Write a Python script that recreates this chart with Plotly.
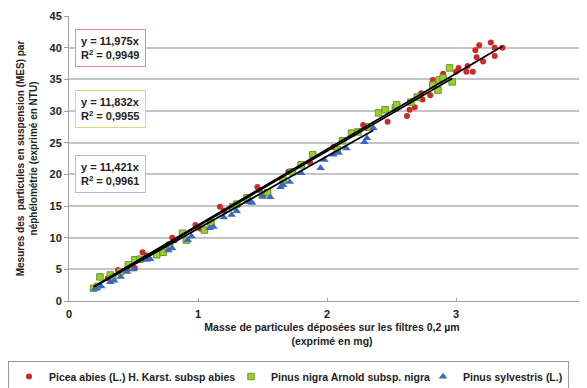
import plotly.graph_objects as go

# ---- data ----
picea_x = [0.30, 0.38, 0.45, 0.51, 0.57, 0.60, 0.80, 0.82, 0.98, 1.00, 1.02, 1.17, 1.20, 1.46, 1.48,
           1.70, 1.87, 2.05, 2.28, 2.31, 2.47, 2.62, 2.64, 2.68, 2.73, 2.74, 2.80, 2.82, 2.90, 3.00,
           3.02, 3.08, 3.09, 3.13, 3.15, 3.16, 3.18, 3.21, 3.27, 3.30, 3.30, 3.36]
picea_y = [3.6, 4.9, 5.0, 5.2, 7.7, 7.2, 10.0, 9.6, 12.0, 11.6, 11.4, 14.9, 14.3, 18.0, 17.5,
           20.4, 21.8, 24.3, 27.8, 27.3, 28.3, 29.2, 30.2, 30.6, 32.8, 31.8, 32.5, 34.9, 35.9, 36.2,
           36.8, 36.2, 37.1, 36.2, 39.6, 38.5, 40.4, 37.8, 40.8, 40.0, 38.7, 40.0]

nigra_x = [0.19, 0.22, 0.24, 0.32, 0.34, 0.40, 0.46, 0.51, 0.55, 0.68, 0.73, 0.78, 0.88, 0.91, 1.05,
           1.10, 1.27, 1.30, 1.38, 1.50, 1.54, 1.66, 1.73, 1.80, 1.89, 2.08, 2.12, 2.19, 2.24, 2.33,
           2.40, 2.45, 2.53, 2.54, 2.65, 2.70, 2.82, 2.86, 2.87, 2.90, 2.95, 2.97]
nigra_y = [2.0, 2.3, 3.8, 4.1, 3.6, 4.6, 5.7, 6.5, 6.6, 7.3, 7.7, 8.8, 10.7, 9.6, 11.2,
           12.4, 14.9, 15.3, 16.3, 16.7, 17.1, 19.1, 20.4, 21.5, 23.1, 23.9, 25.3, 26.5, 26.7, 27.5,
           29.7, 30.2, 30.5, 31.0, 31.4, 32.2, 34.1, 33.3, 34.9, 35.2, 36.8, 34.6]

sylv_x = [0.20, 0.21, 0.25, 0.32, 0.35, 0.40, 0.45, 0.50, 0.60, 0.63, 0.77, 0.80, 0.92, 0.95, 1.09,
          1.12, 1.20, 1.26, 1.30, 1.40, 1.42, 1.50, 1.56, 1.64, 1.66, 1.71, 1.80, 1.95, 1.98, 2.05,
          2.09, 2.15, 2.29, 2.31, 2.36]
sylv_y = [1.9, 2.0, 2.3, 3.0, 3.2, 3.8, 4.6, 5.0, 6.5, 6.6, 8.0, 8.3, 9.6, 10.2, 11.5,
          11.7, 13.2, 13.6, 14.2, 15.6, 15.5, 16.6, 16.4, 18.0, 18.3, 18.8, 20.2, 21.0, 22.3, 23.1,
          23.4, 24.1, 25.1, 25.7, 27.3]

slopes = [11.975, 11.832, 11.421]
r2 = ["0,9949", "0,9955", "0,9961"]
names = ["Picea abies (L.) H. Karst. subsp abies", "Pinus nigra Arnold subsp. nigra", "Pinus sylvestris (L.)"]

xticks = [0, 1, 2, 3, 4]
yticks = [0, 5, 10, 15, 20, 25, 30, 35, 40, 45]

FONT = "Liberation Sans, Arial, sans-serif"
TXT = "#222222"

# page body has an 8px default margin: figure coords = screen coords - 8
PL, PT, PB, PW = 61, 8, 293, 526   # plot area left, top, bottom, width (figure px)
PH = PB - PT

fig = go.Figure()

series = [
    (picea_x, picea_y, dict(symbol="circle", size=6, color="#cc2a2a", line=dict(width=0))),
    (nigra_x, nigra_y, dict(symbol="square", size=6.5, color="#9acd32", line=dict(width=1, color="#6b9a1c"))),
    (sylv_x, sylv_y, dict(symbol="triangle-up", size=7.5, color="#3a66c8", line=dict(width=0))),
]
legend_widths = [177, 147, None]

for (xs, ys, mk), nm, lw in zip(series, names, legend_widths):
    kw = dict(legendwidth=lw) if lw else {}
    fig.add_trace(go.Scatter(x=xs, y=ys, mode="markers", name=nm, marker=mk, **kw))

for (xs, ys, mk), s in zip(series, slopes):
    x0, x1 = min(xs), max(xs)
    fig.add_trace(go.Scatter(x=[x0, x1], y=[s * x0, s * x1], mode="lines",
                             line=dict(color="black", width=1.8), showlegend=False, hoverinfo="skip"))

box_colors = ["#f08a8a", "#d9d97a", "#a9bfe8"]
box_tops_px = [21, 82, 147]
for s, r, c, t in zip(slopes, r2, box_colors, box_tops_px):
    txt = "<b>y = " + f"{s:.3f}".replace(".", ",") + "x<br>R<sup>2</sup> = " + r + "</b>"
    fig.add_annotation(xref="paper", yref="paper", x=(67 - PL) / PW, y=(PB - t) / PH,
                       xanchor="left", yanchor="top",
                       text=txt, showarrow=False, align="left",
                       font=dict(family=FONT, size=11, color=TXT),
                       bordercolor=c, borderwidth=1, borderpad=5, bgcolor="white")

fig.update_layout(
    width=587, height=388,
    margin=dict(l=PL, r=0, t=PT, b=388 - PB, autoexpand=False),
    paper_bgcolor="white", plot_bgcolor="white",
    font=dict(family=FONT, size=11, color=TXT),
    showlegend=True,
    legend=dict(orientation="h", x=(0 - PL) / PW, xanchor="left", y=(PB - 353) / PH, yanchor="top",
                font=dict(family=FONT, size=10.5, color=TXT, weight="bold"),
                bordercolor="#9a9a9a", borderwidth=1, bgcolor="white",
                itemwidth=30, tracegroupgap=0),
    xaxis=dict(range=[0, PW / 129.0], tickvals=xticks, ticktext=[str(v) for v in xticks],
               showgrid=False, zeroline=False,
               showline=True, linecolor="#a0a0a0", linewidth=1,
               ticks="inside", ticklen=3, tickcolor="#a0a0a0",
               ticklabelstandoff=3,
               tickfont=dict(family=FONT, size=11, color=TXT, weight="bold"),
               title=dict(text="<b>Masse de particules déposées sur les filtres 0,2 µm<br>(exprimé en mg)</b>",
                          font=dict(family=FONT, size=10.5, color=TXT), standoff=4)),
    yaxis=dict(range=[0, 45], tickvals=yticks, ticktext=[str(v) for v in yticks],
               showgrid=True, gridcolor="#c4c4c4", gridwidth=1.6, zeroline=False,
               showline=True, linecolor="#a0a0a0", linewidth=1,
               ticks="outside", ticklen=4, tickcolor="#a0a0a0",
               tickfont=dict(family=FONT, size=11, color=TXT, weight="bold"),
               title=dict(text="<b>Mesures des  particules en suspension (MES) par<br>néphélométrie (exprimé en NTU)</b>",
                          font=dict(family=FONT, size=10, color=TXT), standoff=10)),
)

fig.write_html("out.html")
